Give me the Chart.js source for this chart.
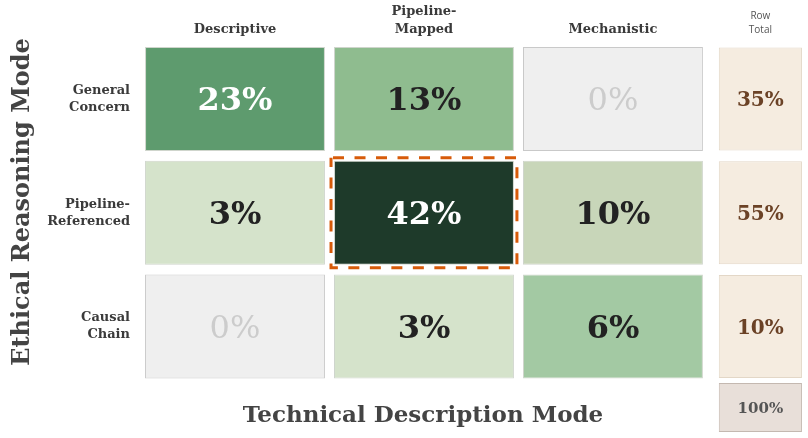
<!DOCTYPE html>
<html>
<head>
<meta charset="utf-8">
<script src="https://cdn.jsdelivr.net/npm/chart.js@4"></script>
<style>
  html, body { margin: 0; padding: 0; background: #fff; }
</style>
</head>
<body>
<canvas id="chart" width="808" height="438"></canvas>
<script>
// data
const columns = [['Descriptive'], ['Pipeline-', 'Mapped'], ['Mechanistic']]
const rows = [['General', 'Concern'], ['Pipeline-', 'Referenced'], ['Causal', 'Chain']]
const shares = [
  [23, 13, 0],
  [3, 42, 10],
  [0, 3, 6],
]
const rowTotals = [35, 55, 10]
const grandTotal = 100
const highlightCell = [1, 1] // row, column

// styles
const cellColors = [
  ['#5e9b6e', '#8fbc8f', '#efefef'],
  ['#d5e3cb', '#1e3a2a', '#c8d6b9'],
  ['#efefef', '#d5e3cb', '#a3c9a3'],
]
const cellText = [
  ['#ffffff', '#222222', '#cccccc'],
  ['#222222', '#ffffff', '#222222'],
  ['#cccccc', '#222222', '#222222'],
]
const SERIF = '"DejaVu Serif", Georgia, serif'
const HALF = 0.476            // half a column, in x units
const TOTAL_SPAN = [2.56, 3.0] // row total column, in x units
const GRAND_ROW = 2.712        // y position of the grand total box

const datasets = columns.map((col, c) => ({
  label: col.join(' '),
  data: rows.map((r, i) => ({ y: i, x: [c - HALF, c + HALF] })),
  backgroundColor: rows.map((r, i) => cellColors[i][c]),
  borderColor: rows.map((r, i) => shares[i][c] === 0 ? '#c9c9c9' : '#cfd5cc'),
  barThickness: 104,
  valueLabels: rows.map((r, i) => shares[i][c] + '%'),
  labelColors: rows.map((r, i) => cellText[i][c]),
  labelFonts: rows.map((r, i) => (shares[i][c] === 0 ? 'normal' : 'bold') + ' 32px ' + SERIF),
}))

datasets.push({
  label: 'Row Total',
  data: rowTotals.map((t, i) => ({ y: i, x: TOTAL_SPAN })),
  backgroundColor: '#f5ece0',
  borderColor: '#e3d7c7',
  barThickness: 103,
  valueLabels: rowTotals.map((t) => t + '%'),
  labelColors: rowTotals.map(() => '#6b4226'),
  labelFonts: rowTotals.map(() => 'bold 20px ' + SERIF),
})

datasets.push({
  label: 'Total',
  data: [{ y: GRAND_ROW, x: TOTAL_SPAN }],
  backgroundColor: '#e8dfd9',
  borderColor: '#c4b8b0',
  barThickness: 49,
  valueLabels: [grandTotal + '%'],
  labelColors: ['#555555'],
  labelFonts: ['bold 15px ' + SERIF],
})

datasets.forEach((ds) => {
  ds.borderWidth = 1
  ds.borderSkipped = false
  ds.inflateAmount = 0
  ds.stack = 'cells'
})

// write the percentages inside each box
const cellLabels = {
  id: 'cellLabels',
  afterDatasetsDraw(chart) {
    const ctx = chart.ctx
    ctx.save()
    ctx.textAlign = 'center'
    ctx.textBaseline = 'alphabetic'
    chart.data.datasets.forEach((ds, d) => {
      chart.getDatasetMeta(d).data.forEach((bar, i) => {
        const size = parseFloat(ds.labelFonts[i].match(/(\d+)px/)[1])
        ctx.font = ds.labelFonts[i]
        ctx.fillStyle = ds.labelColors[i]
        ctx.fillText(ds.valueLabels[i], (bar.x + bar.base) / 2, bar.y + size * 0.36)
      })
    })

    // dashed frame round the highlighted cell
    const [hr, hc] = highlightCell
    const bar = chart.getDatasetMeta(hc).data[hr]
    const left = Math.min(bar.x, bar.base) - 3
    const width = Math.abs(bar.x - bar.base) + 6
    ctx.strokeStyle = '#d75b0a'
    ctx.lineWidth = 3
    ctx.setLineDash([11, 10.5])
    ctx.lineDashOffset = -2
    ctx.strokeRect(left, bar.y - bar.height / 2 - 3, width, bar.height + 6)
    ctx.restore()
  },
}

// headers, row names and axis titles
const headings = {
  id: 'headings',
  afterDraw(chart) {
    const ctx = chart.ctx
    const xs = chart.scales.x
    const ys = chart.scales.y
    ctx.save()
    ctx.fillStyle = '#3a3a3a'
    ctx.textBaseline = 'middle'

    ctx.textAlign = 'center'
    ctx.font = 'bold 13px ' + SERIF
    columns.forEach((col, c) => {
      const x = xs.getPixelForValue(c)
      col.forEach((line, k) => {
        ctx.fillText(line, x, 30 - (col.length - 1 - k) * 18)
      })
    })

    ctx.font = '10px "Open Sans", "Liberation Sans", sans-serif'
    ctx.fillStyle = '#555555'
    const tx = xs.getPixelForValue((TOTAL_SPAN[0] + TOTAL_SPAN[1]) / 2)
    ctx.fillText('Row', tx, 16)
    ctx.fillText('Total', tx, 30)

    ctx.fillStyle = '#3a3a3a'
    ctx.textAlign = 'right'
    ctx.font = 'bold 13px ' + SERIF
    rows.forEach((row, i) => {
      const y = ys.getPixelForValue(i)
      row.forEach((line, k) => {
        ctx.fillText(line, 130, y + (k - (row.length - 1) / 2) * 17)
      })
    })

    ctx.fillStyle = '#444444'
    ctx.textAlign = 'center'
    ctx.textBaseline = 'alphabetic'
    ctx.font = 'bold 23px ' + SERIF
    ctx.fillText('Technical Description Mode', 423, 422)

    ctx.translate(29, 202)
    ctx.rotate(-Math.PI / 2)
    ctx.font = 'bold 24px ' + SERIF
    ctx.fillText('Ethical Reasoning Mode', 0, 0)
    ctx.restore()
  },
}

new Chart(document.getElementById('chart'), {
  type: 'bar',
  data: { datasets },
  options: {
    indexAxis: 'y',
    responsive: false,
    animation: false,
    devicePixelRatio: 1,
    layout: { padding: { left: 140.5, top: 42.1, right: 0, bottom: 3.5 } },
    scales: {
      x: { type: 'linear', display: false, min: -0.5, max: 3.032, stacked: false },
      y: { type: 'linear', display: false, reverse: true, offset: false, min: -0.5, max: 2.95 },
    },
    plugins: {
      legend: { display: false },
      tooltip: { enabled: false },
    },
  },
  plugins: [cellLabels, headings],
})
</script>
</body>
</html>
